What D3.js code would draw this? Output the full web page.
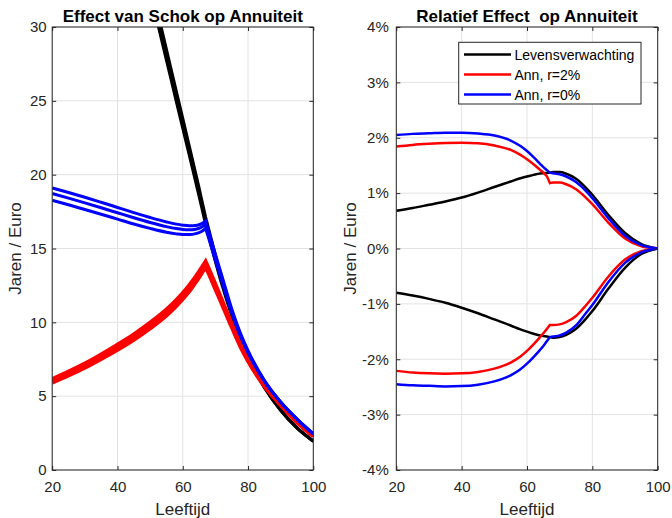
<!DOCTYPE html>
<html><head><meta charset="utf-8">
<script src="https://cdn.jsdelivr.net/npm/d3@7"></script>
<style>
body{margin:0;background:#fff}
svg{display:block;font-family:"Liberation Sans",Arial,Helvetica,sans-serif}
</style>
</head><body>
<svg id="chart" width="672" height="518"></svg>
<script>
// ---------- data ----------
const ages = [20,25,30,35,40,45,50,55,58,60,62,64,65,66,67,68,70,72,75,78,80,85,90,95,100];

// Left panel: absolute values (years / euro)
const lifeBase = [null,null,null,null,null,null,32.8,28.15,25.35,23.5,21.65,19.78,18.84,17.87,16.9,16.05,14.35,12.75,10.6,8.75,7.7,5.62,4.05,2.85,1.95];
const lifeUp   = [null,null,null,null,null,null,33.16,28.49,25.67,23.81,21.94,20.05,19.1,18.11,17.13,16.27,14.55,12.92,10.73,8.85,7.77,5.65,4.06,2.85,1.95];
const lifeDown = [null,null,null,null,null,null,32.38,27.76,24.98,23.15,21.32,19.47,18.54,17.59,16.63,15.79,14.12,12.55,10.45,8.64,7.61,5.58,4.04,2.85,1.95];

const ann2Base = [6.05,6.55,7.08,7.68,8.33,9.02,9.8,10.68,11.32,11.8,12.33,12.93,13.25,13.6,13.96,13.47,12.42,11.38,9.8,8.3,7.45,5.72,4.42,3.25,2.3];
const ann2Up   = [6.16,6.67,7.21,7.83,8.49,9.19,9.98,10.87,11.51,11.99,12.52,13.11,13.43,13.78,14.12,13.63,12.57,11.51,9.9,8.38,7.51,5.75,4.43,3.25,2.3];
const ann2Down = [5.92,6.4,6.92,7.51,8.14,8.82,9.59,10.46,11.1,11.58,12.1,12.72,13.05,13.4,13.77,13.28,12.25,11.23,9.68,8.21,7.38,5.69,4.41,3.25,2.3];

const ann0Base = [18.72,18.41,18.09,17.76,17.42,17.08,16.76,16.48,16.35,16.29,16.27,16.31,16.37,16.47,16.64,15.9,14.42,12.98,10.8,9.0,8.02,6.05,4.6,3.45,2.45];
const ann0Up   = [19.1,18.79,18.47,18.13,17.78,17.43,17.1,16.8,16.65,16.58,16.54,16.56,16.61,16.7,16.87,16.12,14.61,13.15,10.93,9.09,8.09,6.08,4.61,3.45,2.45];
const ann0Down = [18.26,17.96,17.64,17.32,16.99,16.66,16.36,16.1,15.99,15.95,15.95,16.01,16.08,16.19,16.37,15.65,14.19,12.78,10.65,8.89,7.94,6.01,4.59,3.45,2.45];

// Right panel: relative effect (%)
const lifeRelUp   = [0.68,0.73,0.79,0.85,0.92,1.01,1.11,1.21,1.27,1.3,1.33,1.355,1.36,1.365,1.37,1.38,1.38,1.35,1.26,1.1,0.97,0.6,0.28,0.08,0];
const lifeRelDown = [-0.8,-0.85,-0.91,-0.98,-1.07,-1.17,-1.28,-1.39,-1.46,-1.5,-1.54,-1.57,-1.58,-1.59,-1.6,-1.61,-1.6,-1.56,-1.45,-1.27,-1.13,-0.72,-0.35,-0.1,0];
const ann2RelUp   = [1.84,1.87,1.89,1.905,1.91,1.9,1.86,1.78,1.69,1.61,1.52,1.42,1.37,1.31,1.18,1.19,1.19,1.16,1.07,0.92,0.8,0.46,0.18,0.04,0];
const ann2RelDown = [-2.21,-2.24,-2.255,-2.26,-2.255,-2.23,-2.17,-2.06,-1.95,-1.85,-1.73,-1.6,-1.53,-1.46,-1.38,-1.38,-1.37,-1.33,-1.22,-1.03,-0.89,-0.5,-0.2,-0.05,0];
const ann0RelUp   = [2.05,2.07,2.08,2.09,2.09,2.075,2.04,1.95,1.85,1.76,1.65,1.53,1.47,1.42,1.37,1.36,1.34,1.3,1.2,1.04,0.91,0.54,0.23,0.06,0];
const ann0RelDown = [-2.45,-2.47,-2.48,-2.49,-2.485,-2.46,-2.4,-2.29,-2.18,-2.08,-1.96,-1.83,-1.76,-1.68,-1.6,-1.59,-1.57,-1.52,-1.39,-1.17,-1.02,-0.6,-0.26,-0.07,0];

const kinkAge = 67;
const xTicks = [20,40,60,80,100];
const yTicksLeft = [0,5,10,15,20,25,30];
const yTicksRight = [-4,-3,-2,-1,0,1,2,3,4];
const yTickLabelsRight = ["-4%","-3%","-2%","-1%","0%","1%","2%","3%","4%"];
const titles = ["Effect van Schok op Annuiteit","Relatief Effect  op Annuiteit"];
const xLabel = "Leeftijd";
const yLabel = "Jaren / Euro";
const legendLabels = ["Levensverwachting","Ann, r=2%","Ann, r=0%"];
const colors = ["#000000","#ff0000","#0000ff"];

// ---------- drawing ----------
const svg = d3.select("#chart");
const TOP = 27, BOTTOM = 470;
const axisColor = "#262626", gridColor = "#e3e3e3";

function makePath(x, y, vals){
  const pts = ages.map((a,i)=>[a, vals[i]]).filter(p=>p[1]!=null);
  const pre = pts.filter(p=>p[0]<=kinkAge), post = pts.filter(p=>p[0]>=kinkAge);
  const line = d3.line().x(p=>x(p[0])).y(p=>y(p[1])).curve(d3.curveMonotoneX);
  let d = pre.length>1 ? line(pre) : "";
  if(post.length>1){
    const d2 = line(post);
    d += d ? d2.replace(/^M[^A-Za-z]*/,"") : d2;
  }
  return d;
}

function panel(o){
  const x = d3.scaleLinear([20,100],[o.x0,o.x1]);
  const y = d3.scaleLinear(o.ydom,[BOTTOM,TOP]);
  const g = svg.append("g");
  const cid = "clip"+o.id;
  svg.append("defs").append("clipPath").attr("id",cid)
    .append("rect").attr("x",o.x0).attr("y",TOP).attr("width",o.x1-o.x0).attr("height",BOTTOM-TOP);

  // grid
  g.append("g").selectAll("line").data(xTicks).join("line")
    .attr("x1",d=>x(d)).attr("x2",d=>x(d)).attr("y1",TOP).attr("y2",BOTTOM)
    .attr("stroke",gridColor).attr("stroke-width",1);
  g.append("g").selectAll("line").data(o.yticks).join("line")
    .attr("y1",d=>y(d)).attr("y2",d=>y(d)).attr("x1",o.x0).attr("x2",o.x1)
    .attr("stroke",gridColor).attr("stroke-width",1);

  // series
  const sg = g.append("g").attr("clip-path",`url(#${cid})`);
  o.series.forEach(s=>{
    sg.append("path").attr("d",makePath(x,y,s.vals))
      .attr("fill","none").attr("stroke",s.color).attr("stroke-width",s.lw)
      .attr("stroke-linejoin","miter").attr("stroke-linecap","butt");
  });

  // axes (ticks inward)
  const fs = "15px";
  const ax = g.append("g").attr("transform",`translate(0,${BOTTOM})`)
    .call(d3.axisBottom(x).tickValues(xTicks).tickSizeInner(-4).tickSizeOuter(0).tickPadding(11).tickFormat(d3.format("d")));
  g.append("g").attr("transform",`translate(0,${TOP})`)
    .call(d3.axisTop(x).tickValues(xTicks).tickSizeInner(-4).tickSizeOuter(0).tickFormat(""));
  const ay = g.append("g").attr("transform",`translate(${o.x0},0)`)
    .call(d3.axisLeft(y).tickValues(o.yticks).tickSizeInner(-4).tickSizeOuter(0).tickPadding(o.ypad)
      .tickFormat((d,i)=>o.ylabels[i]));
  g.append("g").attr("transform",`translate(${o.x1},0)`)
    .call(d3.axisRight(y).tickValues(o.yticks).tickSizeInner(-4).tickSizeOuter(0).tickFormat(""));
  g.selectAll(".domain").remove();
  g.selectAll(".tick line").attr("stroke",axisColor);
  [ax,ay].forEach(a=>a.selectAll("text").attr("fill",axisColor).style("font-size",fs)
    .style("font-family",'"Liberation Sans",Arial,sans-serif'));
  g.selectAll("g[font-family]").attr("font-family",null).attr("font-size",null);

  // box
  g.append("rect").attr("x",o.x0).attr("y",TOP).attr("width",o.x1-o.x0).attr("height",BOTTOM-TOP)
    .attr("fill","none").attr("stroke",axisColor).attr("stroke-width",1);

  // title and labels
  const cx = (o.x0+o.x1)/2;
  g.append("text").attr("x",cx).attr("y",22).attr("text-anchor","middle")
    .style("font-size","17px").style("font-weight","bold").style("white-space","pre")
    .attr("fill","#000").text(o.title);
  g.append("text").attr("x",cx).attr("y",515).attr("text-anchor","middle")
    .style("font-size","17px").attr("fill",axisColor).text(xLabel);
  g.append("text").attr("transform",`translate(${o.ylx},${(TOP+BOTTOM)/2}) rotate(-90)`)
    .attr("text-anchor","middle").style("font-size","17px").attr("fill",axisColor).text(yLabel);
  return {x,y,g};
}

panel({
  id:"L", x0:52.2, x1:313.3, ydom:[0,30], yticks:yTicksLeft, ylabels:yTicksLeft.map(String),
  ypad:5.5, ylx:21, title:titles[0],
  series:[
    {vals:lifeDown,color:colors[0],lw:3},{vals:lifeBase,color:colors[0],lw:3},{vals:lifeUp,color:colors[0],lw:3},
    {vals:ann2Down,color:colors[1],lw:4},{vals:ann2Base,color:colors[1],lw:4},{vals:ann2Up,color:colors[1],lw:4},
    {vals:ann0Down,color:colors[2],lw:3},{vals:ann0Base,color:colors[2],lw:3},{vals:ann0Up,color:colors[2],lw:3}
  ]
});

panel({
  id:"R", x0:396.3, x1:657.7, ydom:[-4,4], yticks:yTicksRight, ylabels:yTickLabelsRight,
  ypad:7.5, ylx:356, title:titles[1],
  series:[
    {vals:lifeRelUp,color:colors[0],lw:2.5},{vals:lifeRelDown,color:colors[0],lw:2.5},
    {vals:ann2RelUp,color:colors[1],lw:2.5},{vals:ann2RelDown,color:colors[1],lw:2.5},
    {vals:ann0RelUp,color:colors[2],lw:2.5},{vals:ann0RelDown,color:colors[2],lw:2.5}
  ]
});

// legend
const lg = svg.append("g");
lg.append("rect").attr("x",458.7).attr("y",42.3).attr("width",182.3).attr("height",61.7)
  .attr("fill","#fff").attr("stroke",axisColor).attr("stroke-width",1);
legendLabels.forEach((lab,i)=>{
  const cy = 54.5 + i*20;
  lg.append("line").attr("x1",464).attr("x2",511).attr("y1",cy).attr("y2",cy)
    .attr("stroke",colors[i]).attr("stroke-width",2.5);
  lg.append("text").attr("x",514.5).attr("y",cy+5).style("font-size","14px")
    .attr("fill","#000").text(lab);
});
</script>
</body></html>
